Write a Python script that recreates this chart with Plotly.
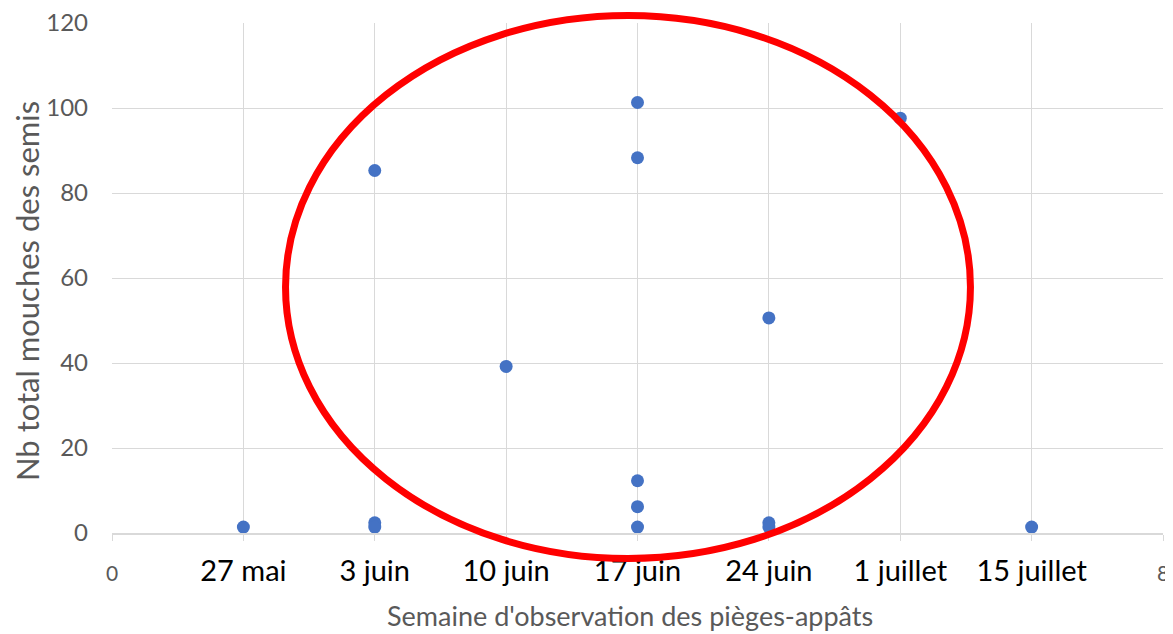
import plotly.graph_objects as go

# Data
week_labels = ["0", "27 mai", "3 juin", "10 juin", "17 juin", "24 juin", "1 juillet", "15 juillet", "8"]
x_week = [1, 2, 2, 2, 3, 4, 4, 4, 4, 4, 5, 5, 5, 6, 7]
y_count = [1.4, 85.3, 2.4, 1.4, 39.2, 101.3, 88.3, 12.3, 6.2, 1.4, 50.6, 2.4, 1.4, 97.6, 1.4]
y_ticks = [0, 20, 40, 60, 80, 100, 120]
x_title = "Semaine d'observation des pièges-appâts"
y_title = "Nb total mouches des semis"

tick_vals = list(range(len(week_labels)))
tick_text = []
for i, t in enumerate(week_labels):
    if i == 0 or i == len(week_labels) - 1:
        tick_text.append(f"<span style='font-size:21px;color:#595959'>{t}</span>")
    else:
        tick_text.append(t)

fig = go.Figure()
fig.add_trace(go.Scatter(
    x=x_week, y=y_count, mode="markers",
    marker=dict(color="#4472C4", size=13),
    cliponaxis=False, showlegend=False,
))

fig.add_shape(type="circle", xref="paper", yref="paper",
              x0=0.1651, x1=0.8168, y0=-0.05, y1=1.0147,
              line=dict(color="#FF0000", width=7), layer="above")

fig.add_annotation(text=y_title, xref="paper", yref="paper",
                   x=-0.0808, y=0.4745, xanchor="center", yanchor="middle",
                   textangle=-90, showarrow=False,
                   font=dict(size=31, color="#595959"))
fig.add_annotation(text=x_title, xref="paper", yref="paper",
                   x=0.4933, y=-0.161, xanchor="center", yanchor="middle",
                   showarrow=False,
                   font=dict(size=27, color="#595959"))

fig.update_layout(
    width=1165, height=626,
    margin=dict(l=104, r=10, t=15, b=101),
    paper_bgcolor="white", plot_bgcolor="white",
    font=dict(family="Lato, Open Sans, sans-serif", color="#595959"),
    xaxis=dict(
        range=[0, 8], tickvals=tick_vals, ticktext=tick_text,
        showgrid=True, gridcolor="#D9D9D9", gridwidth=1,
        showline=True, linecolor="#D9D9D9", linewidth=2,
        ticks="outside", ticklen=6, tickcolor="#D9D9D9",
        tickfont=dict(size=29, color="black"),
        ticklabelstandoff=5, ticklabeloverflow="allow",
        zeroline=False, automargin=False,
    ),
    yaxis=dict(
        range=[0, 120.001], tickvals=y_ticks,
        showgrid=True, gridcolor="#D9D9D9", gridwidth=1,
        zeroline=False, showline=False,
        tickfont=dict(size=24, color="#595959"),
        ticklabelstandoff=23, ticklabeloverflow="allow", automargin=False,
    ),
)

fig.write_html("out.html")
